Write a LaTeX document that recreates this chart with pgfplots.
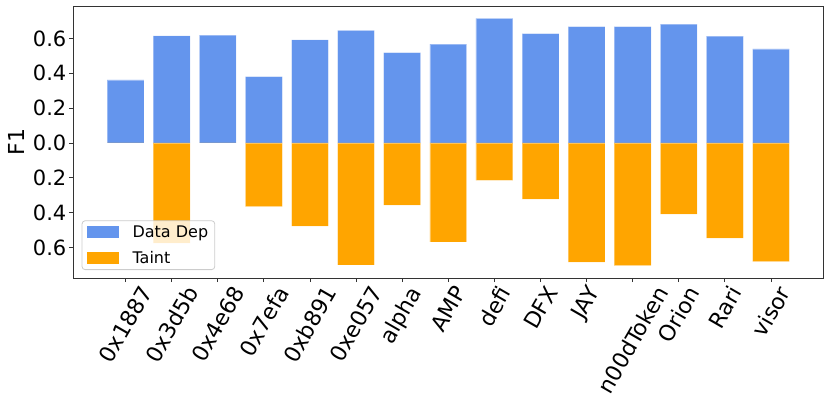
\documentclass[border=0pt]{standalone}
\usepackage{graphicx}
\usepackage{fontspec}
\setmainfont{DejaVu Sans}
\usepackage{pgfplots}
\pgfplotsset{compat=1.18}
\definecolor{depblue}{HTML}{6495ED}
\definecolor{taintorange}{HTML}{FFA500}
\newcommand{\rl}[1]{\rotatebox{60}{#1}}

\begin{document}
\begin{tikzpicture}
\path[use as bounding box] (-73pt,-137pt) rectangle (757pt,278pt);
\begin{axis}[
    scale only axis, width=750.5pt, height=272pt,
    xmin=-1.14, xmax=15.14, ymin=-0.775, ymax=0.786,
    xtick={0,...,14},
    xticklabels={\rl{0x1887},\rl{0x3d5b},\rl{0x4e68},\rl{0x7efa},\rl{0xb891},\rl{0xe057},\rl{alpha},\rl{AMP},\rl{defi},\rl{DFX},\rl{JAY},\rl{n00dToken},\rl{Orion},\rl{Rari},\rl{visor}},
    ytick={-0.6,-0.4,-0.2,0,0.2,0.4,0.6},
    yticklabels={0.6,0.4,0.2,0.0,0.2,0.4,0.6},
    tick pos=left, tick align=outside, major tick length=4pt,
    tick style={black!80, line width=0.9pt},
    axis line style={black!80, line width=0.9pt},
    ticklabel style={font=\fontsize{21}{25}\selectfont},
    xticklabel style={anchor=north, inner sep=0pt, yshift=-2pt, font=\fontsize{22}{26}\selectfont},
    yticklabel style={anchor=east, inner sep=0pt, xshift=-2.5pt},
    ylabel={F1},
    every axis y label/.style={at={(axis description cs:0,0.5)}, xshift=-57pt, rotate=90, anchor=center, font=\fontsize{22}{26}\selectfont},
    legend cell align=left,
    legend image code/.code={\path[#1, draw=none, fill opacity=1, rounded corners=0pt] (0pt,-6pt) rectangle (32pt,6pt);},
    legend style={at={(0,0)}, anchor=south west, xshift=8.7pt, yshift=8pt,
        draw=black!20, line width=0.8pt, rounded corners=3pt,
        fill=white, fill opacity=0.8, text opacity=1,
        font=\fontsize{16}{19}\selectfont,
        inner xsep=4.5pt, inner ysep=3pt, column sep=12pt, row sep=8pt},
]
\addplot[ybar, bar width=0.8, bar shift=0pt, fill=depblue, draw=white, draw opacity=0.35, line width=0.6pt]
    coordinates {(0,0.362) (1,0.615) (2,0.619) (3,0.380) (4,0.592) (5,0.646) (6,0.519) (7,0.567) (8,0.715) (9,0.627) (10,0.667) (11,0.667) (12,0.682) (13,0.613) (14,0.540)};
\addlegendentry{Data Dep}
\addplot[ybar, bar width=0.8, bar shift=0pt, fill=taintorange, draw=white, draw opacity=0.35, line width=0.6pt]
    coordinates {(0,0) (1,-0.575) (2,0) (3,-0.366) (4,-0.477) (5,-0.700) (6,-0.357) (7,-0.568) (8,-0.215) (9,-0.322) (10,-0.684) (11,-0.704) (12,-0.408) (13,-0.546) (14,-0.681)};
\addlegendentry{Taint}
\end{axis}
\end{tikzpicture}
\end{document}
